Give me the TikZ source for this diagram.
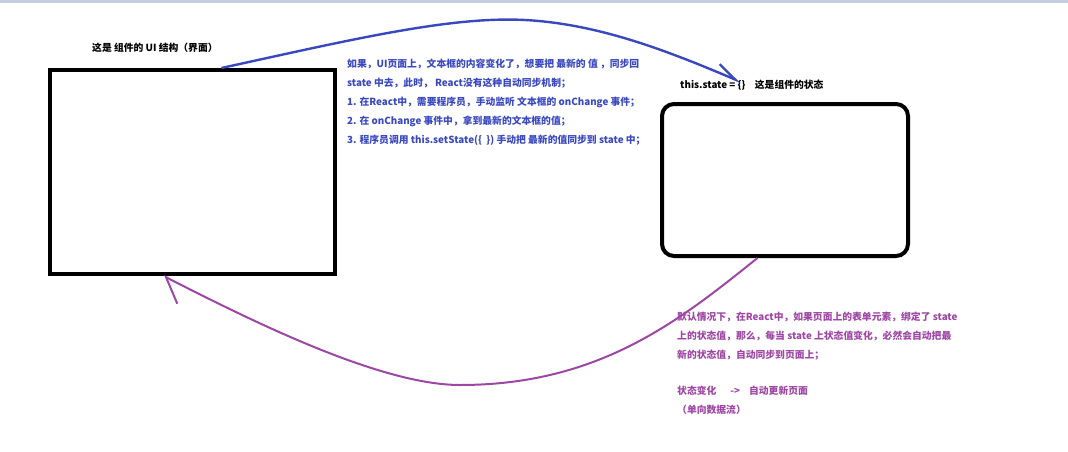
\documentclass[tikz,border=0pt]{standalone}
\usepackage{fontspec}
\setmainfont{Noto Sans CJK SC}
\usetikzlibrary{arrows.meta,calc,positioning}
\definecolor{syncblue}{RGB}{58,72,192}
\definecolor{flowpurple}{RGB}{158,70,164}
\definecolor{topbar}{RGB}{196,206,224}

\begin{document}
\begin{tikzpicture}[x=1pt,y=-1pt,
  every node/.style={inner sep=0pt,font=\fontsize{9.8}{19}\selectfont\bfseries},
  frame/.style={draw=black,line width=4pt},
  blurb/.style={align=left,anchor=north west},
  syncline/.style={draw=syncblue,line width=2.4pt,-{Straight Barb[left,length=20pt,angle'=44]}},
  flowline/.style={draw=flowpurple,line width=2pt,-{Straight Barb[left,length=22pt,angle'=80]}}]
\useasboundingbox (0,0) rectangle (1068,452);
\fill[topbar] (0,0) rectangle (1068,3);
% the view and the state
\node[frame,minimum width=285pt,minimum height=204pt] (ui) at (192.5,172) {};
\node[frame,rounded corners=12pt,minimum width=246pt,minimum height=152pt] (st) at (785,180) {};
\node[anchor=west] (uititle) at (92,48) {这是 组件的 UI 结构（界面）};
\node[anchor=west] (stateobj) at (680,85) {this.state = \{\}};
\node[right=9pt of stateobj] (statenote) {这是组件的状态};
% notes
\node[blurb,text=syncblue] (manual) at (347,59) {如果，UI页面上，文本框的内容变化了，想要把 最新的 值 ，同步回\\
state 中去，此时， React没有这种自动同步机制；\\
1. 在React中，需要程序员，手动监听 文本框的 onChange 事件；\\
2. 在 onChange 事件中，拿到最新的文本框的值；\\
3. 程序员调用 this.setState(\{\ \ \}) 手动把 最新的值同步到 state 中；};
\node[blurb,text=flowpurple] (auto) at (677,312) {默认情况下，在React中，如果页面上的表单元素，绑定了 state\\
上的状态值，那么，每当 state 上状态值变化，必然会自动把最\\
新的状态值，自动同步到页面上；\\[17pt]
状态变化\hspace{14pt}->\hspace{9pt}自动更新页面\\
（单向数据流）};
% arrows
\draw[syncline] ($(ui.north west)!0.6!(ui.north east)$) .. controls (350,40) and (450,16) .. (525,20)
  .. controls (600,24) and (670,52) .. ($(stateobj.north east)+(-5,2)$);
\draw[flowline] ($(st.south west)!0.39!(st.south east)$) .. controls (680,320) and (600,385) .. (460,385)
  .. controls (380,385) and (250,320) .. ($(ui.south west)!0.4!(ui.south east)$);
\end{tikzpicture}
\end{document}
